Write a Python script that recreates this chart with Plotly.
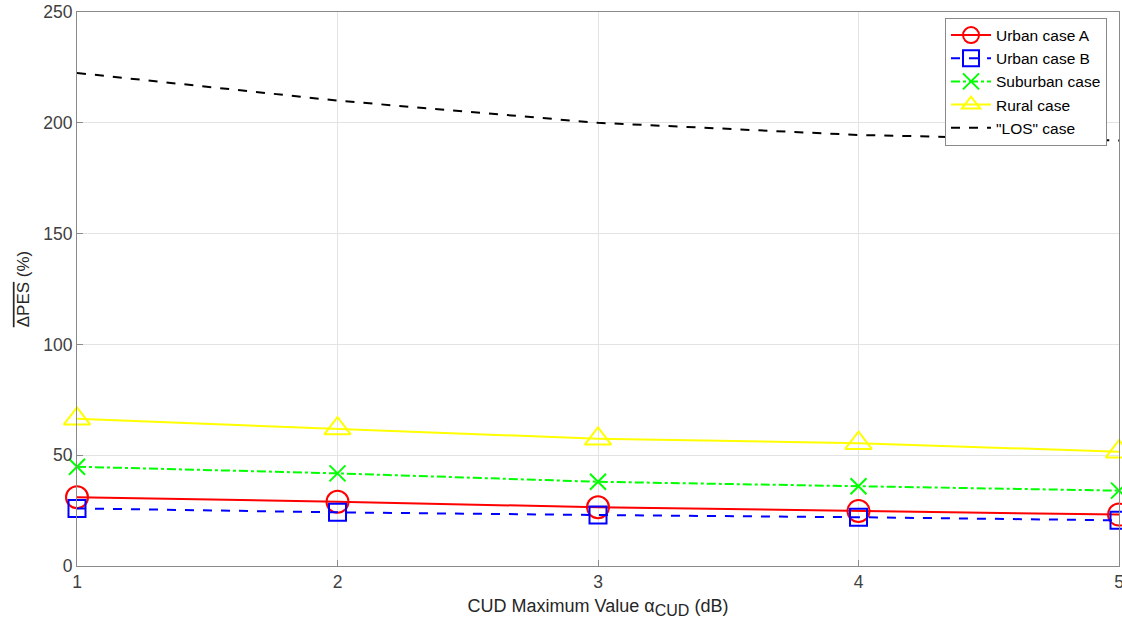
import plotly.graph_objects as go

x_vals = [1, 2, 3, 4, 5]
urban_a = [31.0, 29.0, 26.5, 24.8, 23.2]
urban_b = [26.0, 24.2, 23.0, 22.0, 20.6]
suburban = [44.8, 41.8, 38.0, 36.0, 34.0]
rural = [66.4, 62.0, 57.4, 55.4, 51.6]
los = [222.5, 210.0, 200.0, 194.5, 192.0]

series = [
    ("Urban case A", urban_a, "#ff0000", "solid", "circle-open", 22),
    ("Urban case B", urban_b, "#0000ff", "dash", "square-open", 17),
    ("Suburban case", suburban, "#00ff00", "dashdot", "x-thin-open", 16),
    ("Rural case", rural, "#ffff00", "solid", "triangle-up-open", 23),
    ("\"LOS\" case", los, "#000000", "dash", None, 0),
]

fig = go.Figure()
for name, ys, color, dash, sym, size in series:
    if sym:
        fig.add_trace(go.Scatter(
            x=x_vals, y=ys, name=name, mode="lines+markers",
            line=dict(color=color, width=2, dash=dash),
            marker=dict(symbol=sym, size=size, color=color, line=dict(width=2, color=color)),
            cliponaxis=False,
        ))
    else:
        fig.add_trace(go.Scatter(
            x=x_vals, y=ys, name=name, mode="lines",
            line=dict(color=color, width=2, dash=dash),
        ))

axis_common = dict(
    showgrid=True, gridcolor="#e3e3e3", gridwidth=1,
    showline=True, linecolor="#8a8a8a", linewidth=1, mirror=True,
    ticks="inside", ticklen=6, tickcolor="#8a8a8a",
    tickfont=dict(family="Liberation Sans, Arial", size=17.5, color="#404040"),
    zeroline=False, automargin=False, ticklabeloverflow="allow",
)

fig.update_layout(
    width=1122, height=632,
    margin=dict(l=77, r=3, t=12, b=66),
    paper_bgcolor="white", plot_bgcolor="white",
    font=dict(family="Liberation Sans, Arial", size=17, color="#262626"),
    xaxis=dict(range=[1, 5], tickvals=[1, 2, 3, 4, 5], **axis_common,
               title=dict(text="CUD Maximum Value α<sub><span style=\"font-size:16px\">CUD</span></sub> (dB)",
                          font=dict(size=18, color="#262626"), standoff=8)),
    yaxis=dict(range=[0, 250], tickvals=[0, 50, 100, 150, 200, 250], **axis_common,
               title=dict(text="<span style=\"text-decoration:overline\">ΔPES</span> (%)",
                          font=dict(size=17, color="#262626"), standoff=9)),
    legend=dict(x=0.9885, xanchor="right", y=0.99, yanchor="top",
                bgcolor="white", bordercolor="#8a8a8a", borderwidth=1,
                font=dict(size=15.5, color="#000000"), tracegroupgap=0,
                itemwidth=40),
    showlegend=True,
)

fig.write_html("out.html", config={"displayModeBar": False},
               post_script="document.body.style.margin='0';document.body.style.overflow='hidden';")
